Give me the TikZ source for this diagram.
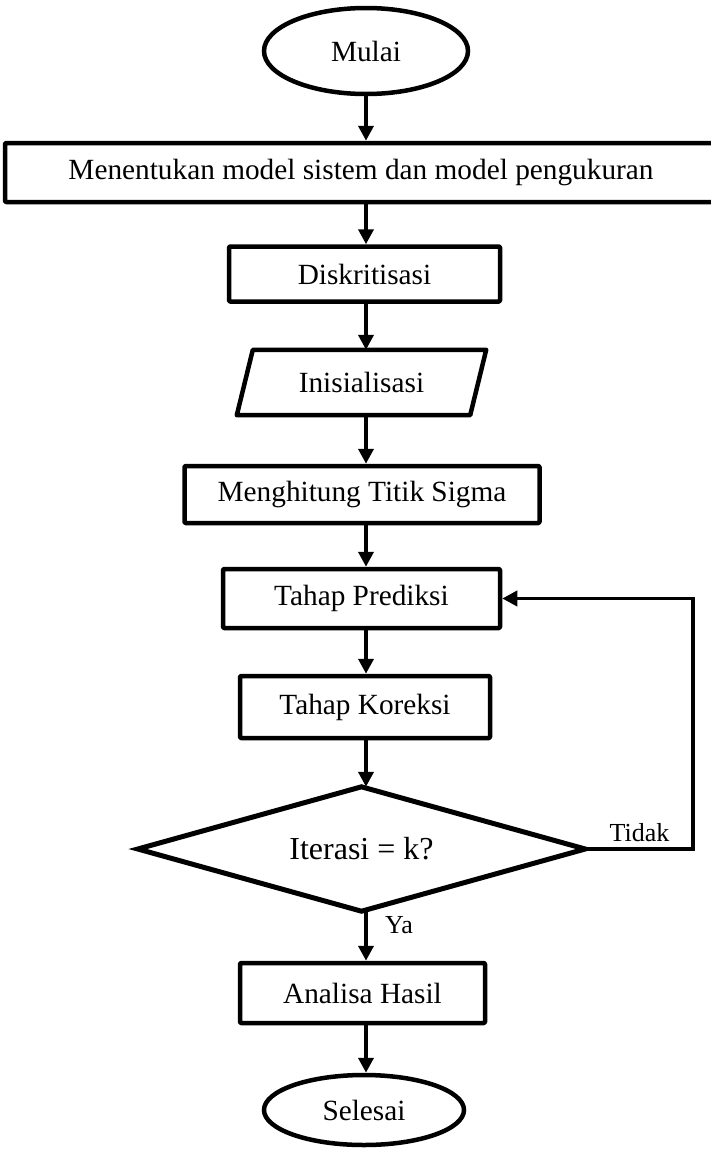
\documentclass[tikz,border=0pt]{standalone}
\usepackage{fontspec}
\setmainfont{Liberation Serif}
\usetikzlibrary{shapes.geometric,arrows.meta}
\begin{document}
\begin{tikzpicture}[x=1pt,y=-1pt,
  every node/.style={inner sep=0pt, font=\fontsize{29.3}{33}\selectfont},
  boxnode/.style={draw, rectangle, line width=4.5pt, line join=round, rounded corners=1pt},
  ovalnode/.style={draw, ellipse, line width=4.5pt},
  decnode/.style={rectangle, font=\fontsize{32}{36}\selectfont},
  decline/.style={line width=5pt, line join=miter},
  arr/.style={line width=3.8pt, -{Triangle[length=15pt,width=15pt]}},
  lbl/.style={font=\fontsize{26}{30}\selectfont}
]
\useasboundingbox (0,0) rectangle (711,1152);
\node[ovalnode, minimum width=204pt, minimum height=86pt] (start) at (366,51) {Mulai};
\node[boxnode, minimum width=712pt, minimum height=59pt] (model) at (361,172.5) {Menentukan model sistem dan model pengukuran};
\node[boxnode, minimum width=271pt, minimum height=55pt] (disk) at (364.5,274) {Diskritisasi};
\node[minimum width=249pt, minimum height=65pt] (init) at (361.5,382.5) {Inisialisasi};
\draw[line width=4.5pt, line join=round] ([xshift=16pt]init.north west) -- (init.north east) -- ([xshift=-16pt]init.south east) -- (init.south west) -- cycle;
\node[boxnode, minimum width=355pt, minimum height=57pt] (sigma) at (362,494.5) {Menghitung Titik Sigma};
\node[boxnode, minimum width=277pt, minimum height=59pt] (pred) at (361.5,598.5) {Tahap Prediksi};
\node[boxnode, minimum width=250pt, minimum height=62pt] (kor) at (365,707) {Tahap Koreksi};
\node[decnode, minimum width=447pt, minimum height=124pt] (dec) at (361.5,849) {Iterasi = k?};
\draw[decline] (dec.north) -- (dec.east) -- (dec.south) -- (dec.west) -- cycle;
\node[boxnode, minimum width=245pt, minimum height=60pt] (ana) at (362.5,993) {Analisa Hasil};
\node[ovalnode, minimum width=200pt, minimum height=70pt] (end) at (364,1110) {Selesai};
\coordinate (turn) at (693,849);
\node[lbl] (tidak) at (639.5,833) {Tidak};
\node[lbl] (ya) at (399,925) {Ya};

\draw[arr] (start.south -| start) -- (model.north -| start);
\draw[arr] (model.south -| start) -- (disk.north -| start);
\draw[arr] (disk.south -| start) -- (init.north -| start);
\draw[arr] (init.south -| start) -- (sigma.north -| start);
\draw[arr] (sigma.south -| start) -- (pred.north -| start);
\draw[arr] (pred.south -| start) -- (kor.north -| start);
\draw[arr] (kor.south -| start) -- (dec.north -| start);
\draw[arr] (dec.south -| start) -- (ana.north -| start);
\draw[arr] (ana.south -| start) -- (end.north -| start);
\draw[arr, line join=miter] (dec.east) -- (turn) |- (pred.east);
\end{tikzpicture}
\end{document}
